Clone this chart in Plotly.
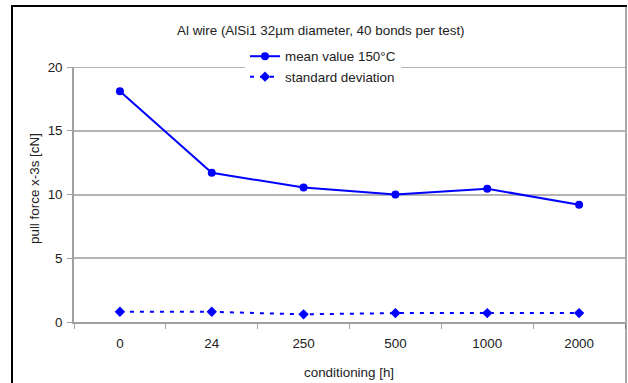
import plotly.graph_objects as go

categories = ["0", "24", "250", "500", "1000", "2000"]
mean_values = [18.1, 11.7, 10.55, 10.0, 10.45, 9.2]
std_values = [0.8, 0.8, 0.6, 0.7, 0.7, 0.7]
y_ticks = [0, 5, 10, 15, 20]

title_text = "Al wire (AlSi1 32µm diameter, 40 bonds per test)"
y_title = "pull force x-3s [cN]"
x_title = "conditioning [h]"

W, H = 628, 383
L, R, T, B = 74, 3, 67, 61
pw = W - L - R
ph = H - T - B

def px(x):
    return (x - L) / pw

def py(y):
    return (H - B - y) / ph

FONT = "Liberation Sans, Arial, sans-serif"
FS = 13.4
TXT = "#222222"
GRID = "#b4b4b4"
AXIS = "#a0a0a0"

fig = go.Figure()
fig.add_trace(go.Scatter(
    x=categories, y=mean_values, name="mean value 150°C",
    mode="lines+markers",
    line=dict(color="#0000ff", width=2),
    marker=dict(symbol="circle", size=8, color="#0000ff"),
))
fig.add_trace(go.Scatter(
    x=categories, y=std_values, name="standard deviation",
    mode="lines+markers",
    line=dict(color="#0000ff", width=2, dash="4px,6px"),
    marker=dict(symbol="diamond", size=8, color="#0000ff"),
))

fig.update_layout(
    width=W, height=H,
    margin=dict(l=L, r=R, t=T, b=B, pad=0),
    paper_bgcolor="white", plot_bgcolor="white",
    font=dict(family=FONT, size=FS, color=TXT),
    showlegend=True,
    legend=dict(
        x=px(245), y=py(41), xanchor="left", yanchor="top",
        bgcolor="white", borderwidth=0,
        font=dict(family=FONT, size=FS, color=TXT),
        tracegroupgap=0, itemwidth=30,
    ),
    xaxis=dict(
        type="category", range=[-0.5, 5.5],
        showline=True, linecolor=AXIS, linewidth=1.5,
        ticks="outside", tickson="boundaries", ticklen=5, tickcolor=AXIS,
        ticklabelstandoff=8,
        showgrid=False, zeroline=False,
        tickfont=dict(family=FONT, size=FS, color=TXT),
        fixedrange=True,
    ),
    yaxis=dict(
        range=[0, 20], tickvals=y_ticks,
        showline=True, linecolor=AXIS, linewidth=1.5,
        ticks="outside", ticklen=5, tickcolor=AXIS,
        ticklabelstandoff=2,
        showgrid=True, gridcolor=GRID, gridwidth=2,
        zeroline=False,
        tickfont=dict(family=FONT, size=FS, color=TXT),
        fixedrange=True,
    ),
    annotations=[
        dict(text=title_text, x=px(321), y=py(30), xref="paper", yref="paper",
             showarrow=False, xanchor="center", yanchor="middle",
             font=dict(family=FONT, size=FS, color=TXT)),
        dict(text=y_title, x=px(34), y=py(189), xref="paper", yref="paper",
             showarrow=False, xanchor="center", yanchor="middle", textangle=-90,
             font=dict(family=FONT, size=FS, color=TXT)),
        dict(text=x_title, x=px(349), y=py(372), xref="paper", yref="paper",
             showarrow=False, xanchor="center", yanchor="middle",
             font=dict(family=FONT, size=FS, color=TXT)),
    ],
    shapes=[
        # top gridline at the range end (Plotly hides gridlines at the edge)
        dict(type="line", xref="paper", yref="y", x0=0, x1=1,
             y0=y_ticks[-1], y1=y_ticks[-1], layer="below",
             line=dict(color=GRID, width=2)),
        dict(type="line", xref="paper", yref="paper", x0=px(12), x1=px(12),
             y0=py(5), y1=py(390), line=dict(color="black", width=2)),
        dict(type="line", xref="paper", yref="paper", x0=px(11), x1=px(627),
             y0=py(6), y1=py(6), line=dict(color="black", width=2)),
        dict(type="line", xref="paper", yref="paper", x0=px(626), x1=px(626),
             y0=py(6), y1=py(390), line=dict(color="#555555", width=1)),
    ],
)

fig.write_html(
    "out.html",
    config={"displayModeBar": False},
    post_script="document.body.style.margin='0px';document.body.style.padding='0px';",
)
